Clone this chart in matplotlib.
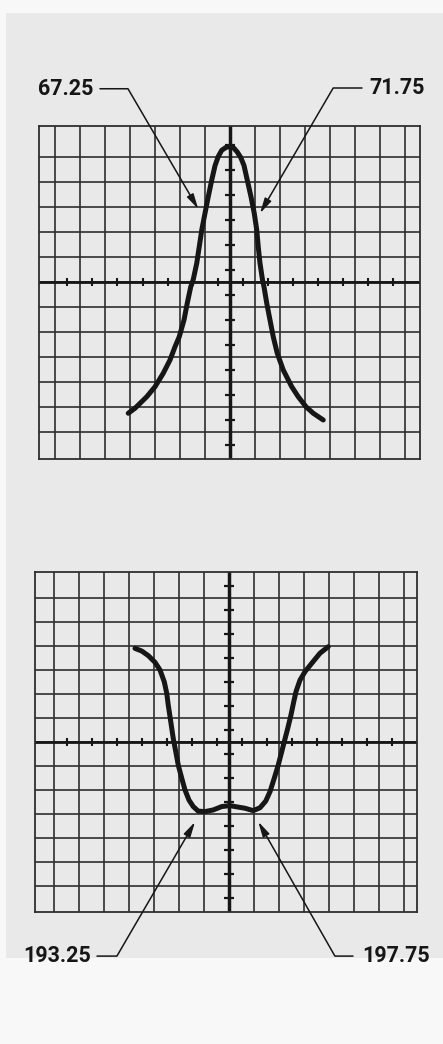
import matplotlib
matplotlib.use("Agg")
import matplotlib.pyplot as plt
from matplotlib.patches import Rectangle
import numpy as np

W, H = 443, 1044

# ---------------- data ----------------
top_x = [-4.07, -3.8, -3.33, -3.0, -2.67, -2.4, -2.2, -2.03, -1.84, -1.71,
         -1.57, -1.47, -1.33, -1.23, -1.13, -1.0, -0.87, -0.73, -0.6, -0.47,
         -0.33, -0.15, 0.0, 0.15, 0.29, 0.43, 0.56, 0.69, 0.84, 0.97,
         1.07, 1.13, 1.2, 1.3, 1.36, 1.47, 1.6, 1.73, 1.89, 2.13,
         2.47, 2.73, 3.04, 3.33, 3.73]
top_y = [-5.25, -5.05, -4.59, -4.19, -3.65, -3.12, -2.59, -2.19, -1.52, -0.85,
         -0.19, 0.1, 0.75, 1.41, 2.08, 2.75, 3.41, 4.08, 4.65, 5.02,
         5.27, 5.39, 5.41, 5.36, 5.2, 4.98, 4.66, 4.08, 3.41, 2.75,
         2.08, 1.41, 0.75, 0.08, -0.19, -0.85, -1.52, -2.19, -2.85, -3.52,
         -4.19, -4.59, -4.99, -5.25, -5.52]

bot_x = [-3.76, -3.49, -3.23, -2.96, -2.76, -2.59, -2.49, -2.43, -2.33, -2.23,
         -2.13, -2.03, -1.89, -1.76, -1.6, -1.43, -1.23, -0.96, -0.63, -0.29,
         0.04, 0.24, 0.64, 0.97, 1.24, 1.47, 1.64, 1.81, 1.97, 2.11,
         2.21, 2.35, 2.48, 2.59, 2.68, 2.84, 3.04, 3.31, 3.64, 3.97]
bot_y = [3.9, 3.79, 3.6, 3.32, 3.0, 2.51, 2.03, 1.54, 0.85, 0.15,
         -0.4, -0.96, -1.51, -2.0, -2.42, -2.69, -2.88, -2.9, -2.83, -2.69,
         -2.65, -2.69, -2.76, -2.86, -2.74, -2.46, -2.07, -1.51, -0.96, -0.4,
         0.01, 0.57, 1.13, 1.68, 2.1, 2.58, 2.93, 3.28, 3.7, 3.97]

top_labels = ["67.25", "71.75"]
top_tip_x = [-1.27, 1.2]
top_tip_y = [2.92, 2.75]

bot_labels = ["193.25", "197.75"]
bot_tip_x = [-1.36, 1.17]
bot_tip_y = [-3.33, -3.32]

# ---------------- figure ----------------
fig = plt.figure(figsize=(W / 100, H / 100), dpi=100)
fig.patch.set_facecolor('#f8f8f8')
fig.patches.append(Rectangle((6 / W, 1 - 958 / H), 1, (958 - 13) / H,
                             transform=fig.transFigure, facecolor='#e9e9e9',
                             edgecolor='none', zorder=-10))

INK = '#161616'
GRID = '#2e2e2e'
FONT = dict(family=['Roboto', 'DejaVu Sans'], weight='bold', size=15.5, color=INK)


def px_axes(x0, y0, x1, y1):
    ax = fig.add_axes([x0 / W, 1 - y1 / H, (x1 - x0) / W, (y1 - y0) / H])
    ax.set_zorder(1)
    return ax


def graticule(ax, xlim, ylim, xgrid, ygrid, tx, ty):
    ax.set_xlim(*xlim)
    ax.set_ylim(*ylim)
    ax.set_facecolor('none')
    ax.set_xticks([])
    ax.set_yticks([])
    for s in ax.spines.values():
        s.set_color(GRID)
        s.set_linewidth(1.3)
    for v in xgrid:
        ax.axvline(v, color=GRID, lw=1.2, zorder=1)
    for v in ygrid:
        ax.axhline(v, color=GRID, lw=1.2, zorder=1)
    ax.axhline(0, color=INK, lw=2.0, zorder=2)
    ax.axvline(0, color=INK, lw=2.5, zorder=2)
    ax.plot(tx, np.zeros(len(tx)), ls='none', marker='|', ms=6, mew=1.5,
            color=INK, zorder=3)
    ax.plot(np.zeros(len(ty)), ty, ls='none', marker='_', ms=7.5, mew=1.6,
            color=INK, zorder=3)


def callout(ax, label, tip, start, text_x, ha, angle):
    ax.annotate('', xy=tip, xytext=start, xycoords='data', textcoords='data',
                annotation_clip=False,
                arrowprops=dict(arrowstyle='-|>,head_length=0.9,head_width=0.22',
                                mutation_scale=10, lw=1.1, color=INK,
                                shrinkA=0, shrinkB=0,
                                connectionstyle=f'angle,angleA=0,angleB={angle},rad=0'),
                zorder=5)
    ax.text(text_x, start[1], label, ha=ha, va='center', clip_on=False, **FONT)


# top panel
ax1 = px_axes(39, 126, 420, 459)
graticule(ax1, (-7.64, 7.6), (-7.08, 6.24),
          np.arange(-7, 8), np.arange(-6, 6),
          np.arange(-6.5, 7.0, 1.0), np.arange(-6.5, 6.0, 1.0))
ax1.plot(top_x, top_y, color=INK, lw=3.6, solid_capstyle='round',
         solid_joinstyle='round', zorder=4)
callout(ax1, top_labels[0], (top_tip_x[0], top_tip_y[0]), (-5.2, 7.73), -5.48, 'right', -59.7)
callout(ax1, top_labels[1], (top_tip_x[1], top_tip_y[1]), (5.28, 7.76), 5.56, 'left', 59.7)

# bottom panel
ax2 = px_axes(35, 572, 417, 912)
graticule(ax2, (-7.76, 7.52), (-7.083, 7.083),
          np.arange(-7, 8), np.arange(-6, 7),
          np.arange(-6.5, 7.0, 1.0), np.arange(-6.5, 7.0, 1.0))
ax2.plot(bot_x, bot_y, color=INK, lw=3.6, solid_capstyle='round',
         solid_joinstyle='round', zorder=4)
callout(ax2, bot_labels[0], (bot_tip_x[0], bot_tip_y[0]), (-5.28, -8.92), -5.52, 'right', 59.8)
callout(ax2, bot_labels[1], (bot_tip_x[1], bot_tip_y[1]), (4.96, -8.92), 5.32, 'left', -60.3)

fig.savefig('out.png', dpi=100, facecolor=fig.get_facecolor())
